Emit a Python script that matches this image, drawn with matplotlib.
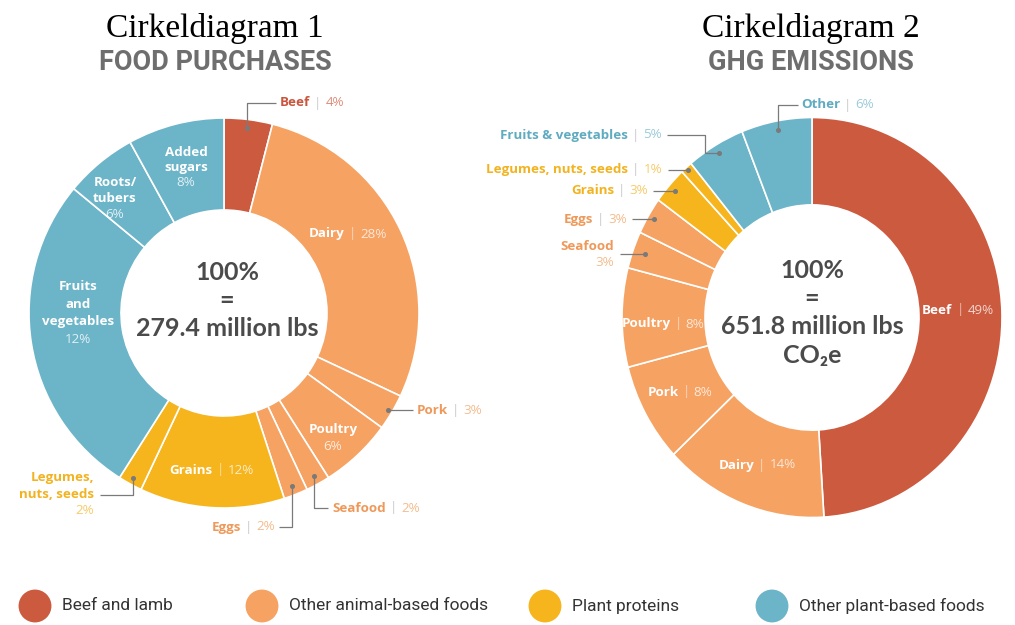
import matplotlib
matplotlib.use('Agg')
import matplotlib.pyplot as plt
from matplotlib.transforms import Affine2D
import numpy as np

W, H = 1015, 625

# ---- data ----
purchase_items = ['Beef', 'Dairy', 'Pork', 'Poultry', 'Seafood', 'Eggs', 'Grains',
                  'Legumes, nuts, seeds', 'Fruits and vegetables', 'Roots/tubers', 'Added sugars']
purchase_share = [4, 28, 3, 6, 2, 2, 12, 2, 27, 6, 8]
purchase_pct = ['4%', '28%', '3%', '6%', '2%', '2%', '12%', '2%', '12%', '6%', '8%']
purchase_group = ['beef', 'animal', 'animal', 'animal', 'animal', 'animal',
                  'plant', 'plant', 'other', 'other', 'other']

ghg_items = ['Beef', 'Dairy', 'Pork', 'Poultry', 'Seafood', 'Eggs', 'Grains',
             'Legumes, nuts, seeds', 'Fruits & vegetables', 'Other']
ghg_share = [49, 14, 8, 8, 3, 3, 3, 1, 5, 6]
ghg_pct = ['49%', '14%', '8%', '8%', '3%', '3%', '3%', '1%', '5%', '6%']
ghg_group = ['beef', 'animal', 'animal', 'animal', 'animal', 'animal',
             'plant', 'plant', 'other', 'other']

group_keys = ['beef', 'animal', 'plant', 'other']
group_names = ['Beef and lamb', 'Other animal-based foods', 'Plant proteins', 'Other plant-based foods']

# ---- style ----
COL = {'beef': '#CC5A3F', 'animal': '#F5A262', 'plant': '#F6B41D', 'other': '#6CB4C8'}
TXT = {'beef': '#C9553C', 'animal': '#EE995A', 'plant': '#F2B320', 'other': '#5FABC1'}
PCT = {'beef': '#DC8C7A', 'animal': '#F4BC8E', 'plant': '#F6CB6A', 'other': '#9BCBD9'}
SEP = '#C8C8C8'
LINE = '#7A7A7A'
DARK = '#4B4B4B'
FONT = 'Open Sans'
LS = 9.6

fig = plt.figure(figsize=(W / 100, H / 100), dpi=100)
ax = fig.add_axes([0, 0, 1, 1])
rend = fig.canvas.get_renderer()


def Y(py):
    return H - py


def rich(x, py, parts, ha='left', size=LS, gap=4):
    # parts: (text, color, weight, alpha)
    ts, ws = [], []
    for s, c, w, a in parts:
        t = ax.text(0, 0, s, color=c, fontweight=w, fontsize=size, family=FONT,
                    va='center', ha='left', alpha=a)
        ts.append(t)
        ws.append(t.get_window_extent(renderer=rend).width)
    total = sum(ws) + gap * (len(ws) - 1)
    start = x - total if ha == 'right' else (x - total / 2 if ha == 'center' else x)
    for t, w in zip(ts, ws):
        t.set_position((start, Y(py)))
        start += w + gap


def inline_label(x, py, name, pct, key, ha='left', inside=False):
    if inside:
        parts = [(name, 'white', 'bold', 1), ('|', 'white', 'normal', 0.6), (pct, 'white', 'normal', 0.75)]
    else:
        parts = [(name, TXT[key], 'bold', 1), ('|', SEP, 'normal', 1), (pct, PCT[key], 'normal', 1)]
    rich(x, py, parts, ha=ha)


def stacked_label(x, py, name_lines, pct, key=None, ha='center', step=16.5):
    for i, ln in enumerate(name_lines):
        ax.text(x, Y(py + i * step), ln, color='white' if key is None else TXT[key],
                fontweight='bold', fontsize=LS, family=FONT, ha=ha, va='center')
    ax.text(x, Y(py + len(name_lines) * step), pct,
            color='white' if key is None else PCT[key], alpha=0.8 if key is None else 1,
            fontsize=LS, family=FONT, ha=ha, va='center')


def donut(values, groups, cx, cy, R, width, ky=1.0):
    wedges, _ = ax.pie(values, colors=[COL[g] for g in groups], center=(cx, Y(cy)), radius=R,
                       startangle=90, counterclock=False,
                       wedgeprops=dict(width=width, edgecolor='white', linewidth=1.2))
    squash = Affine2D().translate(-cx, -Y(cy)).scale(1, ky).translate(cx, Y(cy))
    for w in wedges:
        w.set_transform(squash + ax.transData)
    return wedges


def callout(w, cx, cy, r, end_x, ly=None, ex=None, ky=1.0):
    th = np.deg2rad((w.theta1 + w.theta2) / 2)
    axx = cx + r * np.cos(th)
    ayy = Y(cy) + r * ky * np.sin(th)
    ly_d = ayy if ly is None else Y(ly)
    ex = axx if ex is None else ex
    xs = [axx, ex, ex, end_x]
    ys = [ayy, ayy, ly_d, ly_d]
    ax.plot(xs, ys, color=LINE, lw=0.9, solid_capstyle='butt')
    ax.plot([axx], [ayy], 'o', color=LINE, ms=2.6)
    return ly_d


# ---- chart 1: food purchases ----
c1x, c1y, R1 = 224, 313, 195
w1 = donut(purchase_share, purchase_group, c1x, c1y, R1, 92)

inline_label(348, 234, purchase_items[1], purchase_pct[1], 'animal', ha='center', inside=True)
inline_label(212, 470, purchase_items[6], purchase_pct[6], 'plant', ha='center', inside=True)
stacked_label(333, 430, ['Poultry'], purchase_pct[3])
stacked_label(78, 287, ['Fruits', 'and', 'vegetables'], purchase_pct[8], step=17.5)
stacked_label(115, 183, ['Roots/', 'tubers'], purchase_pct[9], step=15.5)
stacked_label(186, 152, ['Added', 'sugars'], purchase_pct[10], step=15.5)

callout(w1[0], c1x, c1y, 186, 276, ly=103)
inline_label(280, 103, purchase_items[0], purchase_pct[0], 'beef')
ly = callout(w1[2], c1x, c1y, 191, 413)
inline_label(417, Y(ly), purchase_items[2], purchase_pct[2], 'animal')
callout(w1[4], c1x, c1y, 186, 328, ly=508)
inline_label(332, 508, purchase_items[4], purchase_pct[4], 'animal')
callout(w1[5], c1x, c1y, 186, 279, ly=527)
inline_label(275, 527, purchase_items[5], purchase_pct[5], 'animal', ha='right')
callout(w1[7], c1x, c1y, 188, 100, ly=495)
stacked_label(94, 477, ['Legumes,', 'nuts, seeds'], purchase_pct[7], key='plant', ha='right', step=17)

for i, s in enumerate(['100%', '=', '279.4 million lbs']):
    ax.text(c1x + 3, Y(272 + i * 28.5), s, color=DARK, fontsize=18, fontweight='bold',
            family='Lato', ha='center', va='center')

# ---- chart 2: GHG emissions (slightly taller than wide, as in the source) ----
c2x, c2y, R2, K2 = 812, 317.5, 190, 200 / 190
w2 = donut(ghg_share, ghg_group, c2x, c2y, R2, 83, ky=K2)

inline_label(958, 310, ghg_items[0], ghg_pct[0], 'beef', ha='center', inside=True)
inline_label(757, 465, ghg_items[1], ghg_pct[1], 'animal', ha='center', inside=True)
inline_label(680, 392, ghg_items[2], ghg_pct[2], 'animal', ha='center', inside=True)
inline_label(663, 324, ghg_items[3], ghg_pct[3], 'animal', ha='center', inside=True)

callout(w2[9], c2x, c2y, 181, 798, ly=105, ky=K2)
inline_label(801, 105, ghg_items[9], ghg_pct[9], 'other')
callout(w2[8], c2x, c2y, 182, 667, ly=135, ex=705, ky=K2)
inline_label(662, 135, ghg_items[8], ghg_pct[8], 'other', ha='right')
ly = callout(w2[7], c2x, c2y, 187, 668, ky=K2)
inline_label(662, Y(ly), ghg_items[7], ghg_pct[7], 'plant', ha='right')
ly = callout(w2[6], c2x, c2y, 182, 653, ky=K2)
inline_label(648, Y(ly), ghg_items[6], ghg_pct[6], 'plant', ha='right')
ly = callout(w2[5], c2x, c2y, 183, 632, ky=K2)
inline_label(627, Y(ly), ghg_items[5], ghg_pct[5], 'animal', ha='right')
ly = callout(w2[4], c2x, c2y, 178, 620, ky=K2)
stacked_label(614, Y(ly) - 8, ['Seafood'], ghg_pct[4], key='animal', ha='right', step=16)

for i, s in enumerate(['100%', '=', '651.8 million lbs', 'CO\u2082e']):
    ax.text(c2x, Y(270 + i * 28.5), s, color=DARK, fontsize=18, fontweight='bold',
            family='Lato', ha='center', va='center')

# ---- titles ----
for x, t1, t2 in [(215, 'Cirkeldiagram 1', 'FOOD PURCHASES'), (811, 'Cirkeldiagram 2', 'GHG EMISSIONS')]:
    ax.text(x, Y(28), t1, family='Liberation Serif', fontsize=24, color='black', ha='center', va='center')
    ax.text(x, Y(63), t2, family=['Liberation Sans Narrow', 'Roboto'], fontsize=19.5, fontweight='bold',
            color='#6E6E6E', ha='center', va='center')

# ---- legend ----
legend_x = [35, 262, 545, 772]
for x, k, name in zip(legend_x, group_keys, group_names):
    ax.scatter([x], [Y(606)], s=560, color=COL[k], edgecolors='none')
    ax.text(x + 27, Y(606), name, family='Roboto', fontsize=12.5, color='#333333', ha='left', va='center')

ax.set_xlim(0, W)
ax.set_ylim(0, H)
ax.set_aspect('auto')
ax.axis('off')
fig.savefig('out.png', dpi=100, facecolor='white')
